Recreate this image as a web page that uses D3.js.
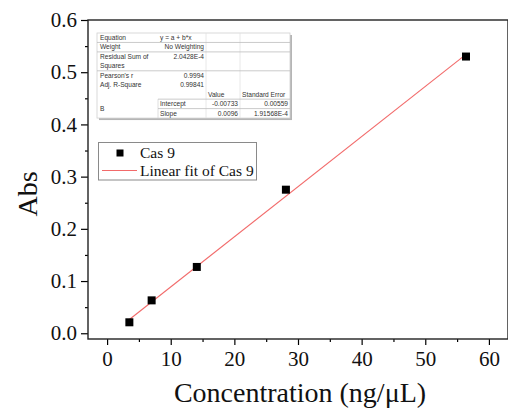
<!DOCTYPE html>
<html>
<head>
<meta charset="utf-8">
<script src="https://cdn.jsdelivr.net/npm/d3@7"></script>
<style>
  body { margin: 0; background: #fff; }
  .serif { font-family: "Liberation Serif", "Times New Roman", Times, "DejaVu Serif", serif; }
  .sans { font-family: "Liberation Sans", Arial, Helvetica, sans-serif; }
</style>
</head>
<body>
<div id="chart"></div>
<script>
// data
var conc = [3.5, 7.0, 14.1, 28.1, 56.4];
var absorb = [0.021, 0.063, 0.127, 0.275, 0.530];
var fitIntercept = -0.00733;
var fitSlope = 0.0096;
var xTicks = [0, 10, 20, 30, 40, 50, 60];
var yTicks = [0.0, 0.1, 0.2, 0.3, 0.4, 0.5, 0.6];
var seriesName = "Cas 9";
var fitName = "Linear fit of Cas 9";

// fit report table (text cells)
var tableRows = [
    ["Equation", "y = a + b*x", "", ""],
    ["Weight", "No Weighting", "", ""],
    ["Residual Sum of\nSquares", "2.0428E-4", "", ""],
    ["Pearson's r", "0.9994", "", ""],
    ["Adj. R-Square", "0.99841", "", ""],
    ["", "", "Value", "Standard Error"],
    ["B", "Intercept", "-0.00733", "0.00559"],
    ["", "Slope", "0.0096", "1.91568E-4"]
];

var W = 508, H = 408;
var pLeft = 88, pTop = 20, pRight = 508, pBottom = 339;

var svg = d3.select("#chart")
    .append("svg")
    .attr("width", W)
    .attr("height", H);

var xScale = d3.scaleLinear()
    .domain([-3, 63])
    .range([pLeft, pRight]);

var yScale = d3.scaleLinear()
    .domain([-0.011, 0.6])
    .range([pBottom, pTop]);

//X-Axis minor + major
svg.append("g")
    .attr("transform", "translate(0," + pBottom + ")")
    .call(d3.axisBottom(xScale).tickValues(d3.range(5, 61, 10)).tickSize(3).tickFormat(""))
    .call(function(g) { g.select(".domain").remove(); })
    .selectAll("line").attr("stroke-width", 1.2);

var xAxis = svg.append("g")
    .attr("transform", "translate(0," + pBottom + ")")
    .call(d3.axisBottom(xScale).tickValues(xTicks).tickSize(6).tickSizeOuter(0).tickPadding(6).tickFormat(d3.format("d")));
xAxis.attr("font-family", null).attr("font-size", null);
xAxis.select(".domain").remove();
xAxis.selectAll("line").attr("stroke-width", 1.2);
xAxis.selectAll("text")
    .attr("class", "serif")
    .style("font-size", "21px")
    .attr("fill", "#111");

//Y-Axis minor + major
svg.append("g")
    .attr("transform", "translate(" + pLeft + ",0)")
    .call(d3.axisLeft(yScale).tickValues(d3.range(0.05, 0.6, 0.1)).tickSize(3).tickFormat(""))
    .call(function(g) { g.select(".domain").remove(); })
    .selectAll("line").attr("stroke-width", 1.2);

var yAxis = svg.append("g")
    .attr("transform", "translate(" + pLeft + ",0)")
    .call(d3.axisLeft(yScale).tickValues(yTicks).tickSize(7).tickSizeOuter(0).tickPadding(4).tickFormat(d3.format(".1f")));
yAxis.attr("font-family", null).attr("font-size", null);
yAxis.select(".domain").remove();
yAxis.selectAll("line").attr("stroke-width", 1.2);
yAxis.selectAll("text")
    .attr("class", "serif")
    .style("font-size", "21px")
    .attr("fill", "#111");

// frame
svg.append("rect")
    .attr("x", pLeft)
    .attr("y", pTop)
    .attr("width", pRight - pLeft)
    .attr("height", pBottom - pTop)
    .attr("fill", "none")
    .attr("stroke", "#222")
    .attr("stroke-width", 1.4);

// axis titles
svg.append("text")
    .attr("class", "serif")
    .attr("x", 300)
    .attr("y", 402)
    .attr("text-anchor", "middle")
    .style("font-size", "28px")
    .attr("fill", "#111")
    .text("Concentration (ng/\u03bcL)");

svg.append("text")
    .attr("class", "serif")
    .attr("transform", "translate(37,194) rotate(-90)")
    .attr("text-anchor", "middle")
    .style("font-size", "28px")
    .attr("fill", "#111")
    .text("Abs");

// fit line
var x0 = d3.min(conc), x1 = d3.max(conc);
svg.append("line")
    .attr("x1", xScale(x0))
    .attr("y1", yScale(fitIntercept + fitSlope * x0))
    .attr("x2", xScale(x1))
    .attr("y2", yScale(fitIntercept + fitSlope * x1))
    .attr("stroke", "#f26a6a")
    .attr("stroke-width", 1.1);

// points
var pts = conc.map(function(c, i) { return { x: c, y: absorb[i] }; });
svg.selectAll("rect.pt")
    .data(pts)
    .enter().append("rect")
    .attr("class", "pt")
    .attr("x", function(d) { return xScale(d.x) - 4; })
    .attr("y", function(d) { return yScale(d.y) - 4; })
    .attr("width", 8)
    .attr("height", 8)
    .attr("fill", "#000");

// fit report table
var tx = 97, ty = 33, rowH = 9.45;
var colX = [97, 158, 206, 240, 290];
var nLines = 9;
var tH = rowH * nLines;

var tbl = svg.append("g");
tbl.append("rect")
    .attr("x", tx + 2).attr("y", ty + 2)
    .attr("width", colX[4] - tx).attr("height", tH)
    .attr("fill", "#b5b5b5");
tbl.append("rect")
    .attr("x", tx).attr("y", ty)
    .attr("width", colX[4] - tx).attr("height", tH)
    .attr("fill", "#fff")
    .attr("stroke", "#d0d0d0")
    .attr("stroke-width", 0.8);

// vertical grid
[2, 3].forEach(function(c) {
    tbl.append("line")
        .attr("x1", colX[c]).attr("x2", colX[c])
        .attr("y1", ty).attr("y2", ty + tH)
        .attr("stroke", "#e2e2e2").attr("stroke-width", 0.8);
});
tbl.append("line")
    .attr("x1", colX[1]).attr("x2", colX[1])
    .attr("y1", ty + rowH * 7).attr("y2", ty + tH)
    .attr("stroke", "#d6d6d6").attr("stroke-width", 0.8);

// horizontal rules (in line units)
var hRules = [[1, 0], [2, 0], [4, 0], [7, 1], [8, 1]];
hRules.forEach(function(r) {
    tbl.append("line")
        .attr("x1", colX[r[1]]).attr("x2", colX[4])
        .attr("y1", ty + rowH * r[0]).attr("y2", ty + rowH * r[0])
        .attr("stroke", "#bdbdbd").attr("stroke-width", 0.8);
});

// cell text
var line = 0;
tableRows.forEach(function(row, i) {
    var parts = row[0].split("\n");
    var span = parts.length;
    parts.forEach(function(p, k) {
        tbl.append("text")
            .attr("class", "sans")
            .attr("x", colX[0] + 3)
            .attr("y", ty + rowH * (line + k + (p === "B" ? 1 : 0.5)))
            .attr("dy", "0.35em")
            .style("font-size", "6.6px").attr("fill", "#333")
            .text(p);
    });
    for (var c = 1; c < 4; c++) {
        if (!row[c]) continue;
        var leftAlign = (i === 0 || i === 5 || (c === 1 && i >= 6));
        tbl.append("text")
            .attr("class", "sans")
            .attr("x", leftAlign ? colX[c] + 2 : colX[c + 1] - 2)
            .attr("y", ty + rowH * (line + 0.5))
            .attr("dy", "0.35em")
            .attr("text-anchor", leftAlign ? "start" : "end")
            .style("font-size", "6.6px").attr("fill", "#333")
            .text(row[c]);
    }
    line += span;
});

// Legend
var legend = svg.append("g");
legend.append("rect")
    .attr("x", 98.5).attr("y", 142.5)
    .attr("width", 158).attr("height", 37.5)
    .attr("fill", "#fff")
    .attr("stroke", "#8a8a8a")
    .attr("stroke-width", 1);
legend.append("rect")
    .attr("x", 116.5).attr("y", 149.5)
    .attr("width", 7).attr("height", 7)
    .attr("fill", "#000");
legend.append("line")
    .attr("x1", 102).attr("x2", 137)
    .attr("y1", 170.5).attr("y2", 170.5)
    .attr("stroke", "#f26a6a").attr("stroke-width", 1.1);
legend.append("text")
    .attr("class", "serif")
    .attr("x", 140).attr("y", 158)
    .style("font-size", "15.5px").attr("fill", "#111")
    .text(seriesName);
legend.append("text")
    .attr("class", "serif")
    .attr("x", 140).attr("y", 175.5)
    .style("font-size", "15.5px").attr("fill", "#111")
    .text(fitName);
</script>
</body>
</html>
